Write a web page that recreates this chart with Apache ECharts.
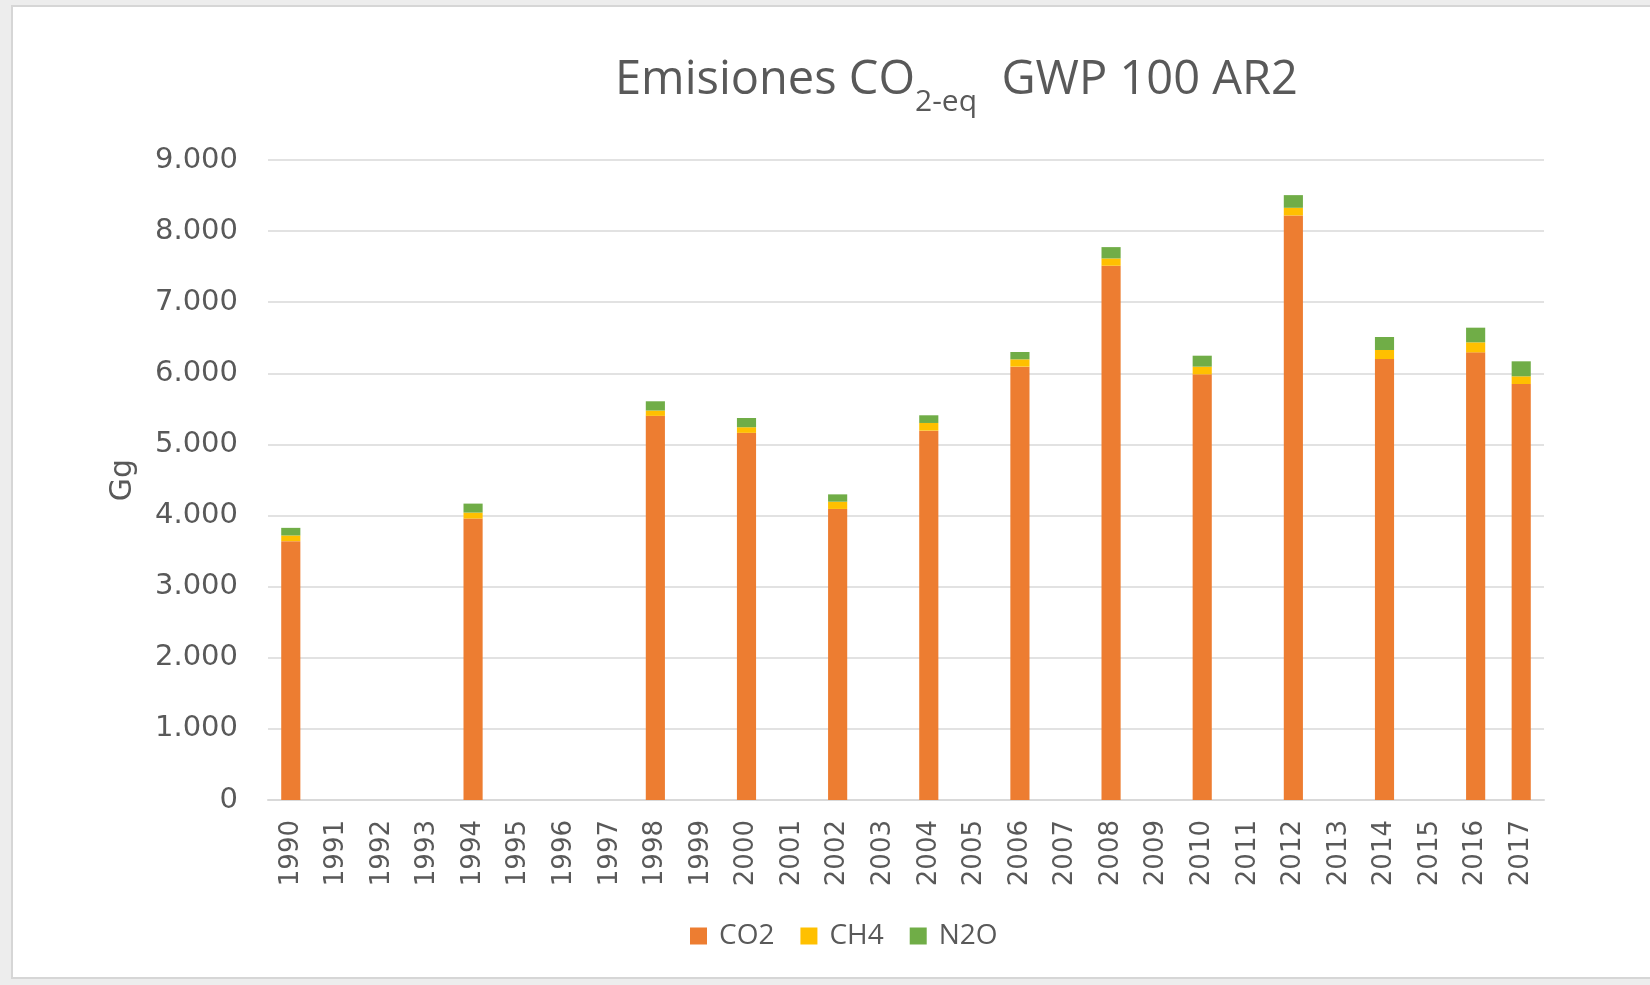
<!DOCTYPE html>
<html>
<head>
<meta charset="utf-8">
<script src="https://cdn.jsdelivr.net/npm/echarts@6/dist/echarts.min.js"></script>
<style>
  body { margin: 0; background: #ededed; }
  #frame { position: absolute; left: 11px; top: 5px; width: 1650px; height: 974px; background: #fff; border: 2px solid #d6d6d6; box-sizing: border-box; }
  #main { position: absolute; left: 0; top: 0; width: 1650px; height: 985px; }
</style>
</head>
<body>
<div id="frame"></div>
<div id="main"></div>
<script>
// años
var years = ['1990','1991','1992','1993','1994','1995','1996','1997','1998','1999',
             '2000','2001','2002','2003','2004','2005','2006','2007','2008','2009',
             '2010','2011','2012','2013','2014','2015','2016','2017'];

// Gg CO2-eq, null = sin dato
var co2 = [3640,null,null,null,3958,null,null,null,5402,null,
           5163,null,4093,null,5194,null,6094,null,7513,null,
           5986,null,8220,null,6201,null,6295,5850];
var ch4 = [80,null,null,null,84,null,null,null,75,null,
           79,null,102,null,108,null,103,null,103,null,
           108,null,108,null,127,null,141,108];
var n2o = [107,null,null,null,126,null,null,null,130,null,
           130,null,103,null,108,null,103,null,159,null,
           154,null,178,null,183,null,206,211];

var yTicks = [0, 9000, 1000]; // min, max, interval

var myChart = echarts.init(document.getElementById('main'));

var axisFont = 'DejaVu Sans';
var textFont = 'Open Sans';

var option = {
    backgroundColor: 'transparent',
    animation: false,
    title: {
        text: '{a|Emisiones CO}{s|2-eq}{a|  GWP 100 AR2}',
        left: 610,
        top: 41,
        textStyle: {
            fontWeight: 'normal',
            rich: {
                a: { fontFamily: textFont, fontSize: 47, fontWeight: 'normal', color: '#595959', verticalAlign: 'bottom', lineHeight: 58 },
                s: { fontFamily: textFont, fontSize: 30, fontWeight: 'normal', color: '#595959', verticalAlign: 'bottom', lineHeight: 58, padding: [0, 0, -13, 0] }
            }
        }
    },
    legend: {
        bottom: 30,
        left: 685,
        itemWidth: 17,
        itemHeight: 17,
        itemGap: 26,
        icon: 'rect',
        textStyle: { fontFamily: textFont, fontSize: 28, color: '#595959', padding: [0, 0, 0, 7] },
        data: ['CO2', 'CH4', 'N2O']
    },
    grid: {
        left: 268,
        right: 106,
        top: 160,
        bottom: 185,
        containLabel: false
    },
    xAxis: {
        type: 'category',
        data: years,
        axisLine: { lineStyle: { color: '#d9d9d9', width: 2 } },
        axisTick: { show: false },
        axisLabel: {
            rotate: 90,
            interval: 0,
            margin: 20,
            fontFamily: axisFont,
            fontSize: 26,
            color: '#595959'
        }
    },
    yAxis: {
        type: 'value',
        min: yTicks[0],
        max: yTicks[1],
        interval: yTicks[2],
        name: 'Gg',
        nameLocation: 'middle',
        nameGap: 130,
        nameRotate: 90,
        nameTextStyle: { fontFamily: axisFont, fontSize: 30, color: '#595959' },
        axisLine: { show: false },
        axisTick: { show: false },
        splitLine: { lineStyle: { color: '#d9d9d9', width: 1.5 } },
        axisLabel: {
            margin: 30,
            fontFamily: axisFont,
            fontSize: 29,
            color: '#595959',
            formatter: function (v) {
                return String(v).replace(/\B(?=(\d{3})+(?!\d))/g, '.');
            }
        }
    },
    series: [{
        name: 'CO2',
        type: 'bar',
        stack: 'total',
        data: co2,
        barWidth: '42%',
        color: '#ED7D31'
    }, {
        name: 'CH4',
        type: 'bar',
        stack: 'total',
        data: ch4,
        color: '#FFC000'
    }, {
        name: 'N2O',
        type: 'bar',
        stack: 'total',
        data: n2o,
        color: '#70AD47'
    }]
};

myChart.setOption(option);
</script>
</body>
</html>
